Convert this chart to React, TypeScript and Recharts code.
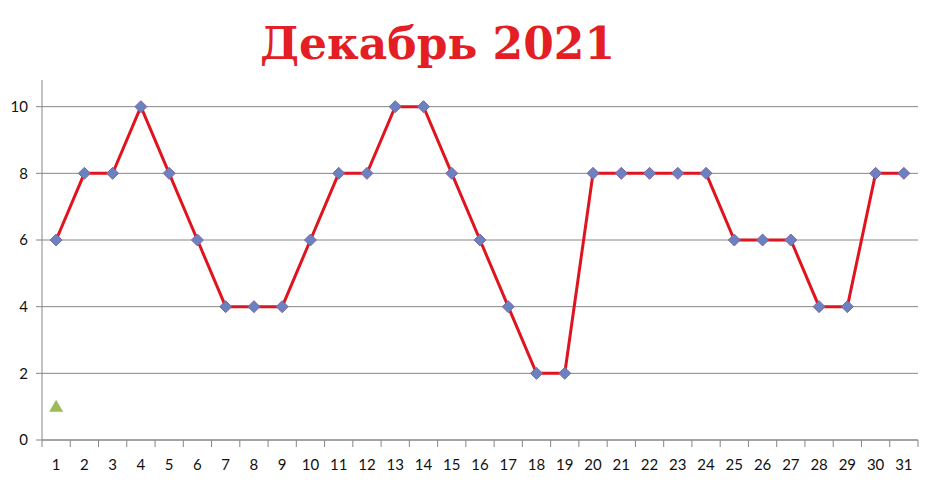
import React from "react";
import {
  ComposedChart,
  Line,
  Scatter,
  XAxis,
  YAxis,
  CartesianGrid
} from "recharts";

const days = [
  1, 2, 3, 4, 5, 6, 7, 8, 9, 10, 11, 12, 13, 14, 15, 16,
  17, 18, 19, 20, 21, 22, 23, 24, 25, 26, 27, 28, 29, 30, 31
];
const values = [
  6, 8, 8, 10, 8, 6, 4, 4, 4, 6, 8, 8, 10, 10, 8, 6,
  4, 2, 2, 8, 8, 8, 8, 8, 6, 6, 6, 4, 4, 8, 8
];
const markerDays = [1];
const markerValues = [1];
const yTicks = [0, 2, 4, 6, 8, 10];
const boundaryTicks = [
  0.5, 1.5, 2.5, 3.5, 4.5, 5.5, 6.5, 7.5, 8.5, 9.5, 10.5, 11.5, 12.5, 13.5, 14.5, 15.5,
  16.5, 17.5, 18.5, 19.5, 20.5, 21.5, 22.5, 23.5, 24.5, 25.5, 26.5, 27.5, 28.5, 29.5, 30.5, 31.5
];

const lineData = days.map((d, i) => ({ day: d, value: values[i] }));
const markerData = markerDays.map((d, i) => ({ day: d, value: markerValues[i] }));

const AXIS = "#868686";
const FONT = "Lato, 'Open Sans', sans-serif";

// diamond marker
function Diamond(props: any) {
  const { cx, cy } = props;
  if (cx == null || cy == null) return null;
  const r = 6;
  return (
    <polygon
      points={`${cx},${cy - r} ${cx + r},${cy} ${cx},${cy + r} ${cx - r},${cy}`}
      fill="#6b82c0"
      stroke="#8064a2"
      strokeWidth={1}
    />
  );
}

function Triangle(props: any) {
  const { cx, cy } = props;
  if (cx == null || cy == null) return null;
  return (
    <polygon
      points={`${cx},${cy - 7} ${cx + 7},${cy + 5} ${cx - 7},${cy + 5}`}
      fill="#9bbb59"
    />
  );
}

export default function App() {
  return (
    <div style={{ position: "absolute", left: 0, top: 0, width: 937, height: 490, background: "#fff" }}>
      <div
        style={{
          position: "absolute",
          left: 0,
          width: 875,
          top: 16,
          textAlign: "center",
          fontFamily: "'DejaVu Serif', serif",
          fontWeight: "bold",
          fontSize: 44,
          color: "#e31e24",
          lineHeight: "56px"
        }}
      >
        Декабрь 2021
      </div>
      <ComposedChart
        width={937}
        height={490}
        margin={{ top: 80, right: 19, left: 0, bottom: 20 }}
      >
        <CartesianGrid vertical={false} horizontalValues={yTicks} stroke={AXIS} strokeWidth={1} />
        <XAxis
          xAxisId="grid"
          type="number"
          dataKey="day"
          domain={[0.5, 31.5]}
          ticks={boundaryTicks}
          interval={0}
          tick={() => <g />}
          tickSize={7}
          stroke={AXIS}
          height={1}
          allowDataOverflow
        />
        <XAxis
          xAxisId="lbl"
          type="number"
          dataKey="day"
          domain={[0.5, 31.5]}
          ticks={days}
          interval={0}
          tickLine={false}
          axisLine={false}
          tickMargin={12}
          tick={{ fill: "#111", fontSize: 15, fontFamily: FONT }}
          height={29}
          allowDataOverflow
        />
        <YAxis
          type="number"
          domain={[0, 10.8]}
          ticks={yTicks}
          interval={0}
          width={42}
          tickSize={6}
          tickMargin={8}
          stroke={AXIS}
          tick={{ fill: "#111", fontSize: 15, fontFamily: FONT }}
          allowDataOverflow
        />
        <Line
          xAxisId="grid"
          data={lineData}
          dataKey="value"
          stroke="#e0141e"
          strokeWidth={3}
          dot={<Diamond />}
          activeDot={false}
          isAnimationActive={false}
        />
        <Scatter
          xAxisId="grid"
          data={markerData}
          dataKey="value"
          shape={<Triangle />}
          isAnimationActive={false}
        />
      </ComposedChart>
    </div>
  );
}
